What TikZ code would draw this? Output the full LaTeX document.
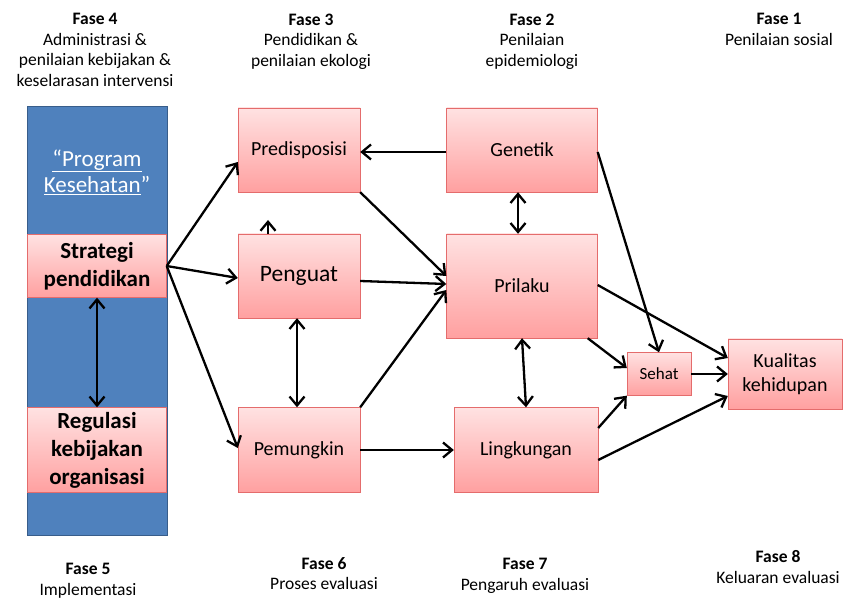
\documentclass[tikz,border=0pt]{standalone}
\usepackage{fontspec}
\setmainfont{Carlito}
\definecolor{pinktop}{RGB}{255,226,226}
\definecolor{pinkbot}{RGB}{255,160,160}
\definecolor{pinkline}{RGB}{228,108,108}
\definecolor{colblue}{RGB}{79,129,189}
\definecolor{colline}{RGB}{56,93,138}
\usetikzlibrary{arrows.meta}

\begin{document}
\begin{tikzpicture}[x=1pt, y=-1pt,
    box/.style={draw=pinkline, top color=pinktop, bottom color=pinkbot,
      align=center, inner sep=2pt, font=\fontsize{20}{24}\selectfont},
    colbox/.style={box, minimum width=139pt, font=\bfseries\fontsize{23}{28}\selectfont},
    fase/.style={align=center, font=\fontsize{17.5}{20.5}\selectfont},
    arr/.style={-{Straight Barb[length=9pt, width=15pt]}, line width=2.3pt},
    biarr/.style={{Straight Barb[length=9pt, width=15pt]}-{Straight Barb[length=9pt, width=15pt]}, line width=2.3pt},
  ]
  \useasboundingbox (0,0) rectangle (846,601);

  % headers
  \node[fase, anchor=north] (f4) at (95,10) {\textbf{Fase 4}\\Administrasi \&\\penilaian kebijakan \&\\keselarasan intervensi};
  \node[fase, anchor=north] (f3) at (311,10) {\textbf{Fase 3}\\Pendidikan \&\\penilaian ekologi};
  \node[fase, anchor=north] (f2) at (532,10) {\textbf{Fase 2}\\Penilaian\\epidemiologi};
  \node[fase, anchor=north] (f1) at (779,10) {\textbf{Fase 1}\\Penilaian sosial};

  % footers
  \node[fase, anchor=north] (f5) at (88,560) {\textbf{Fase 5}\\Implementasi};
  \node[fase, anchor=north] (f6) at (324,554) {\textbf{Fase 6}\\Proses evaluasi};
  \node[fase, anchor=north] (f7) at (525,555) {\textbf{Fase 7}\\Pengaruh evaluasi};
  \node[fase, anchor=north] (f8) at (778,547) {\textbf{Fase 8}\\Keluaran evaluasi};

  % program column
  \node[draw=colline, line width=1pt, fill=colblue, minimum width=140pt, minimum height=428pt] (prog) at (97,321) {};
  \node[text=white, align=center, font=\fontsize{23}{26}\selectfont] (judul) at (97,172)
    {\underline{“Program}\\\underline{Kesehatan}”};
  \node[colbox, minimum height=63pt] (strat) at (97,266) {Strategi\\pendidikan};
  \node[colbox, minimum height=85pt] (reg) at (97,450) {Regulasi\\kebijakan\\organisasi};

  % phase 3 boxes
  \node[box, minimum width=122pt, minimum height=84pt] (pred) at (299,150) {Predisposisi};
  \node[box, minimum width=122pt, minimum height=84pt, font=\fontsize{23.5}{27}\selectfont] (peng) at (299,276) {Penguat};
  \node[box, minimum width=122pt, minimum height=85pt] (pemu) at (299,450) {Pemungkin};

  % phase 2 boxes
  \node[box, minimum width=151pt, minimum height=84pt] (gen) at (522,150) {Genetik};
  \node[box, minimum width=151pt, minimum height=104pt] (pril) at (522,286) {Prilaku};
  \node[box, minimum width=144pt, minimum height=85pt] (ling) at (526,450) {Lingkungan};

  % outcome boxes
  \node[box, minimum width=64pt, minimum height=43pt, font=\fontsize{17}{20}\selectfont] (seh) at (659,374) {Sehat};
  \node[box, minimum width=114pt, minimum height=70pt] (kual) at (785,374) {Kualitas\\kehidupan};

  % connectors
  \draw[biarr] (strat.south) -- (reg.north);
  \draw[arr] (strat.east) -- (pred.west |- 0,162);
  \draw[arr] (strat.east) -- (peng.west |- 0,278);
  \draw[arr] (strat.east) -- (pemu.west |- 0,448);
  \draw[arr] (gen.west |- 0,152) -- (pred.east |- 0,152);
  \draw[biarr] (gen.south -| 518,0) -- (pril.north -| 518,0);
  \draw[arr] (pred.south east) -- (pril.west |- 0,276);
  \draw[arr] (peng.east |- 0,281) -- (pril.west |- 0,284);
  \draw[arr] (pemu.north east) -- (pril.west |- 0,290);
  \draw[biarr] (peng.south -| 297,0) -- (pemu.north -| 297,0);
  \draw[arr] (pemu.east) -- (ling.west);
  \draw[biarr] (pril.south) -- (ling.north);
  \draw[arr] (gen.east |- 0,152) -- (seh.north);
  \draw[arr] (pril.east |- 0,285) -- (kual.west |- 0,358);
  \draw[arr] (pril.south east) ++(-10,0) coordinate (pse) (pse) -- (seh.west |- 0,368);
  \draw[arr] (ling.east |- 0,428) -- (seh.south west);
  \draw[arr] (ling.east |- 0,460) -- (kual.west |- 0,396);
  \draw[arr] (seh.east) -- (kual.west);
  \coordinate (tip) at (268,220);
  \draw[arr] (peng.north -| 268,0) -- (tip);
\end{tikzpicture}
\end{document}
